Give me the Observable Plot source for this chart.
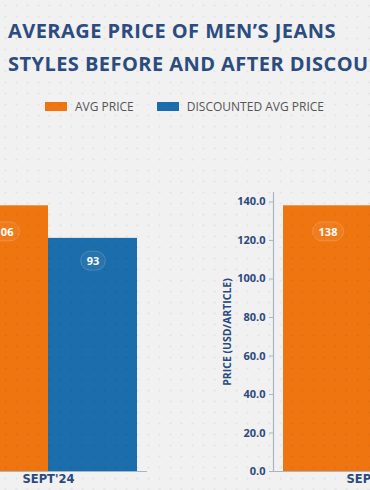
<!DOCTYPE html>
<html>
<head>
<meta charset="utf-8">
<script src="https://cdn.jsdelivr.net/npm/d3@7"></script>
<script src="https://cdn.jsdelivr.net/npm/@observablehq/plot@0.6"></script>
<style>
  html, body { margin: 0; padding: 0; }
  body { width: 370px; height: 490px; overflow: hidden; position: relative; background: #f1f1f1; font-family: "Open Sans", sans-serif; }
  .title { position: absolute; left: 8px; top: 14px; font-size: 20px; font-weight: 700; color: #2c4c80; line-height: 33px; white-space: nowrap; letter-spacing: 0.45px; }
  .legend { position: absolute; left: 45px; top: 98px; display: flex; align-items: center; font-size: 12px; color: #555; white-space: nowrap; }
  .legend .item { display: flex; align-items: center; margin-right: 23px; }
  .legend .sw { width: 22px; height: 9px; margin-right: 8px; }
  .panel { position: absolute; top: 180px; width: 320px; }
  .panel svg { max-width: none !important; }
  .dots { position: absolute; left: 0; top: 0; width: 370px; height: 490px; pointer-events: none;
    background-image: radial-gradient(rgba(0,0,0,0.05) 0.9px, transparent 1.4px); background-size: 11px 11px; }
</style>
</head>
<body>
<div class="title">AVERAGE PRICE OF MEN’S JEANS<br>STYLES BEFORE AND AFTER DISCOUNT</div>
<div class="legend" id="legend"></div>
<div class="panel" id="left" style="left:-71px"></div>
<div class="panel" id="right" style="left:185px"></div>
<div class="dots"></div>
<script>
const months = ["SEPT'24"];
const series = ["AVG PRICE", "DISCOUNTED AVG PRICE"];
const colors = ["#ef7511", "#1c6dab"];
const leftValues = [106, 93];
const rightValues = [138]; // discounted bar of this panel lies outside the view
const yTicks = [0, 20, 40, 60, 80, 100, 120, 140];
const yLabel = "PRICE (USD/ARTICLE)";

// legend
const legend = document.getElementById("legend");
series.forEach((s, i) => {
  const it = document.createElement("div");
  it.className = "item";
  it.innerHTML = `<div class="sw" style="background:${colors[i]}"></div><span>${s}</span>`;
  legend.appendChild(it);
});

function panel(values, showY, marginLeft) {
  const data = values.map((v, i) => ({month: months[0], series: series[i], value: v}));
  const ymax = d3.max(values) * 1.05;
  const axisColor = "#a9b5c2";
  const labelColor = "#2b4a7c";
  const marks = [
    Plot.barY(data, {fx: "month", x: "series", y: "value", fill: "series"}),
    Plot.ruleY([0], {stroke: axisColor, strokeWidth: 1.2}),
    Plot.axisFx({anchor: "bottom", tickSize: 0, tickPadding: 3, fontSize: 11.5, fontWeight: "bold",
      fontFamily: "DejaVu Sans, sans-serif", fill: labelColor, label: null})
  ];
  if (showY) {
    marks.push(Plot.frame({anchor: "left", stroke: axisColor, strokeWidth: 1.2}));
    marks.push(Plot.axisY({ticks: yTicks, tickFormat: d3.format(".1f"), tickSize: 4, tickPadding: 4,
      stroke: axisColor, fill: labelColor, fontSize: 11, fontWeight: "bold", label: null}));
    marks.push(Plot.axisY({ticks: [], tickSize: 0, fill: labelColor, fontSize: 10.5, fontWeight: "bold",
      label: yLabel, labelAnchor: "center", labelOffset: 50, labelArrow: "none"}));
  }
  marks.push(Plot.text(data, {fx: "month", x: "series", y: d => d.value * 0.9, text: d => String(d.value),
    fill: "white", fontWeight: "bold", fontSize: 11}));
  const chart = Plot.plot({
    width: marginLeft + 198 + 20,
    height: 310,
    marginTop: 12,
    marginBottom: 19,
    marginLeft: marginLeft,
    marginRight: 20,
    style: {background: "transparent", fontFamily: "Open Sans, sans-serif", overflow: "visible", maxWidth: "none"},
    fx: {domain: months, padding: 0, label: null},
    x: {domain: series, paddingInner: 0, paddingOuter: 0.1, axis: null},
    y: {domain: [0, ymax], axis: null},
    color: {domain: series, range: colors},
    marks
  });
  return chart;
}

function addPills(svg) {
  svg.querySelectorAll('g[aria-label="text"] text').forEach(t => {
    const b = t.getBBox();
    const r = document.createElementNS("http://www.w3.org/2000/svg", "rect");
    r.setAttribute("x", b.x - 6);
    r.setAttribute("y", b.y - 2);
    r.setAttribute("width", b.width + 12);
    r.setAttribute("height", b.height + 4);
    r.setAttribute("rx", (b.height + 4) / 2);
    r.setAttribute("fill", "white");
    r.setAttribute("fill-opacity", "0.05");
    r.setAttribute("stroke", "white");
    r.setAttribute("stroke-opacity", "0.18");
    const tr = t.getAttribute("transform");
    if (tr) r.setAttribute("transform", tr);
    t.parentNode.insertBefore(r, t);
  });
}

const L = panel(leftValues, false, 20);
document.getElementById("left").appendChild(L);
addPills(L);
const R = panel(rightValues, true, 88);
document.getElementById("right").appendChild(R);
addPills(R);
</script>
</body>
</html>
